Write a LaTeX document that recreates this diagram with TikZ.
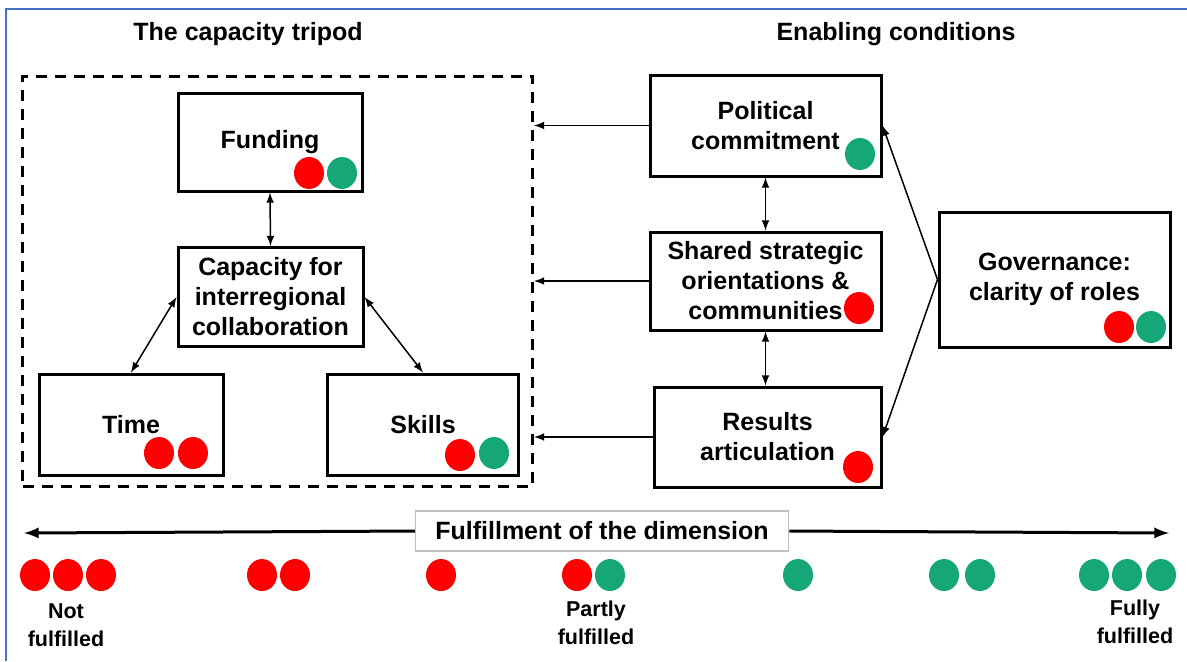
\documentclass[tikz,border=0pt]{standalone}
\usepackage{fontspec}
\setmainfont{Liberation Sans}
\usepackage{tikz}
\usetikzlibrary{arrows}
\definecolor{dotred}{RGB}{255,0,0}
\definecolor{dotgreen}{RGB}{22,167,121}
\definecolor{frameblue}{RGB}{68,114,196}
\tikzstyle{dim}=[rectangle, draw=black, line width=1.5pt, align=center, inner sep=0pt, font=\bfseries\fontsize{12.5}{15}\selectfont]
\tikzstyle{title}=[font=\bfseries\fontsize{12.5}{15}\selectfont]
\tikzstyle{scale label}=[align=center, font=\bfseries\fontsize{10.75}{14}\selectfont]
\tikzstyle{link}=[latex-latex, line width=0.75pt]
\tikzstyle{feed}=[-latex, line width=0.75pt]
\tikzstyle{axis}=[-latex, line width=1.5pt]
\tikzstyle{red dot}=[fill=dotred]
\tikzstyle{green dot}=[fill=dotgreen]

\begin{document}
\begin{tikzpicture}[x=0.5pt, y=-0.5pt]
  \useasboundingbox (0,0) rectangle (1187,661);
  \draw[frameblue, line width=1pt] (6,661) -- (6,9) -- (1187,9);

  % headings
  \node[title] (tripodtitle) at (248,34) {The capacity tripod};
  \node[title] (enabletitle) at (896,34) {Enabling conditions};

  % the capacity tripod
  \node[draw, line width=1.5pt, dash pattern=on 5.5pt off 4pt, minimum width=255pt, minimum height=205pt] (tripod) at (277.5,281) {};
  \node[dim, minimum width=92pt, minimum height=49pt] (fund) at (270,142) {Funding};
  \node[dim, minimum width=92.5pt, minimum height=49.5pt] (cap) at (270.5,297) {Capacity for\\interregional\\collaboration};
  \node[dim, minimum width=92pt, minimum height=50.5pt] (time) at (131,424.5) {Time};
  \node[dim, minimum width=95.5pt, minimum height=50.5pt] (skills) at (423,424.5) {Skills};

  % enabling conditions
  \node[dim, minimum width=115.5pt, minimum height=50.5pt] (pol) at (765.5,125.5) {Political\\commitment};
  \node[dim, minimum width=115.5pt, minimum height=49pt] (shared) at (765.5,281) {Shared strategic\\orientations \&\\communities};
  \node[dim, minimum width=113.5pt, minimum height=50pt] (res) at (767.5,437) {Results\\articulation};
  \node[dim, minimum width=115.5pt, minimum height=67.5pt] (gov) at (1054.5,279.5) {Governance:\\clarity of roles};

  % ratings
  \fill[red dot] (309,173) ellipse (15 and 16);
  \fill[green dot] (342,173) ellipse (15 and 16);
  \fill[red dot] (159,453) ellipse (15 and 16);
  \fill[red dot] (193,453) ellipse (15 and 16);
  \fill[red dot] (460,455) ellipse (15 and 16);
  \fill[green dot] (494,453) ellipse (15 and 16);
  \fill[green dot] (860,154) ellipse (15 and 16);
  \fill[red dot] (859,308) ellipse (15 and 16);
  \fill[red dot] (858,467) ellipse (15 and 16);
  \fill[red dot] (1119,327) ellipse (15 and 16);
  \fill[green dot] (1151,327) ellipse (15 and 16);

  % connectors
  \draw[link] (fund.south) -- (cap.north);
  \draw[link] (cap.west) -- (time.north);
  \draw[link] (cap.east) -- (skills.north);
  \draw[link] (pol.south) -- (shared.north);
  \draw[link] (shared.south) -- (shared.south |- res.north);
  \draw[feed] (pol.west) -- (pol.west -| tripod.east);
  \draw[feed] (shared.west) -- (shared.west -| tripod.east);
  \draw[feed] (res.west) -- (res.west -| tripod.east);
  \draw[feed] (gov.west) -- (pol.east);
  \draw[feed] (gov.west) -- (res.east);

  % scale of fulfilment
  \coordinate (axl) at (24,533);
  \coordinate (axr) at (1169,533);
  \node[title, draw=black!25, line width=0.75pt, fill=white, minimum width=186.5pt, minimum height=20pt] (fulfil) at (602,531) {Fulfillment of the dimension};
  \draw[axis] (fulfil.west) -- (axl);
  \draw[axis] (fulfil.east) -- (axr);

  \foreach \x in {35,68,101,262,295,441,577}
    \fill[red dot] (\x,575) ellipse (15 and 16);
  \foreach \x in {610,798,944,980,1094,1127,1161}
    \fill[green dot] (\x,575) ellipse (15 and 16);

  \node[scale label] (notful) at (66,625) {Not\\fulfilled};
  \node[scale label] (partful) at (596,623) {Partly\\fulfilled};
  \node[scale label] (fullful) at (1135,622) {Fully\\fulfilled};
\end{tikzpicture}
\end{document}
